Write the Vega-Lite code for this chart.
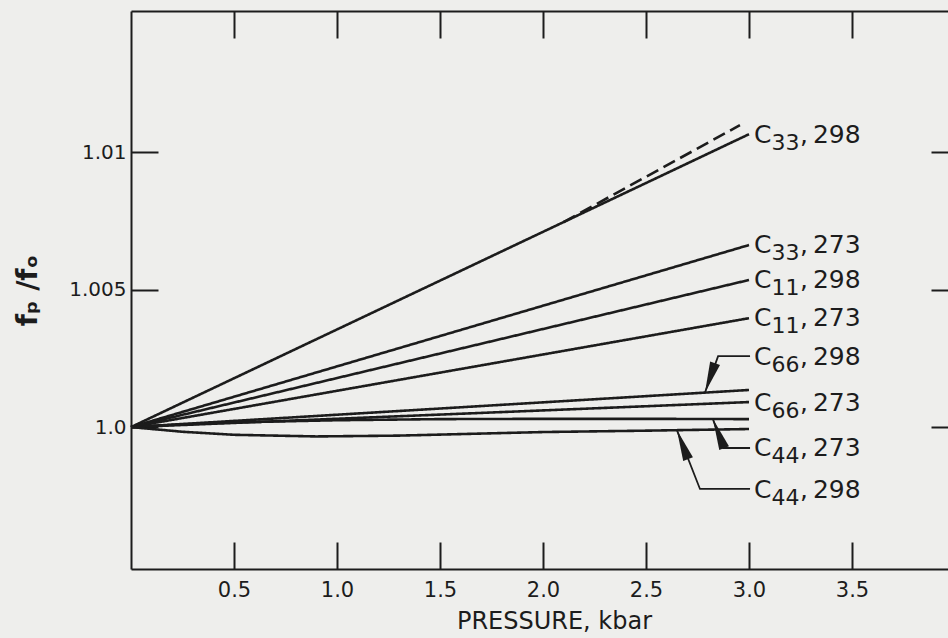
{
  "$schema": "https://vega.github.io/schema/vega-lite/v6.json",
  "width": 817,
  "height": 558,
  "autosize": {"type": "none"},
  "padding": {"left": 131, "top": 11, "right": 0, "bottom": 69},
  "background": "#eeeeec",
  "config": {
    "view": {"stroke": null},
    "font": "DejaVu Sans",
    "axis": {
      "grid": false,
      "domainColor": "#1c1c1c",
      "tickColor": "#1c1c1c",
      "labelColor": "#1c1c1c",
      "titleColor": "#1c1c1c",
      "domainWidth": 2,
      "tickWidth": 2,
      "labelFont": "DejaVu Sans",
      "titleFont": "DejaVu Sans"
    }
  },
  "datasets": {
    "curves": [
      {"series": "C33_298", "dash": "solid", "p": 0, "r": 1.0},
      {"series": "C33_298", "dash": "solid", "p": 1.5, "r": 1.005325},
      {"series": "C33_298", "dash": "solid", "p": 3.0, "r": 1.01065},
      {"series": "C33_298x", "dash": "dashed", "p": 2.1, "r": 1.007455},
      {"series": "C33_298x", "dash": "dashed", "p": 2.956, "r": 1.01098},
      {"series": "C33_273", "dash": "solid", "p": 0, "r": 1.0},
      {"series": "C33_273", "dash": "solid", "p": 3.0, "r": 1.00662},
      {"series": "C11_298", "dash": "solid", "p": 0, "r": 1.0},
      {"series": "C11_298", "dash": "solid", "p": 3.0, "r": 1.00535},
      {"series": "C11_273", "dash": "solid", "p": 0, "r": 1.0},
      {"series": "C11_273", "dash": "solid", "p": 3.0, "r": 1.00396},
      {"series": "C66_298", "dash": "solid", "p": 0, "r": 1.0},
      {"series": "C66_298", "dash": "solid", "p": 3.0, "r": 1.00135},
      {"series": "C66_273", "dash": "solid", "p": 0, "r": 1.0},
      {"series": "C66_273", "dash": "solid", "p": 3.0, "r": 1.00091},
      {"series": "C44_273", "dash": "solid", "p": 0, "r": 1.0},
      {"series": "C44_273", "dash": "solid", "p": 0.25, "r": 1.0001},
      {"series": "C44_273", "dash": "solid", "p": 0.5, "r": 1.00017},
      {"series": "C44_273", "dash": "solid", "p": 1.0, "r": 1.00025},
      {"series": "C44_273", "dash": "solid", "p": 1.5, "r": 1.00029},
      {"series": "C44_273", "dash": "solid", "p": 2.0, "r": 1.0003},
      {"series": "C44_273", "dash": "solid", "p": 2.5, "r": 1.0003},
      {"series": "C44_273", "dash": "solid", "p": 3.0, "r": 1.00029},
      {"series": "C44_298", "dash": "solid", "p": 0, "r": 1.0},
      {"series": "C44_298", "dash": "solid", "p": 0.25, "r": 0.99983},
      {"series": "C44_298", "dash": "solid", "p": 0.5, "r": 0.99972},
      {"series": "C44_298", "dash": "solid", "p": 0.9, "r": 0.99966},
      {"series": "C44_298", "dash": "solid", "p": 1.3, "r": 0.99969},
      {"series": "C44_298", "dash": "solid", "p": 2.0, "r": 0.99982},
      {"series": "C44_298", "dash": "solid", "p": 2.5, "r": 0.99987},
      {"series": "C44_298", "dash": "solid", "p": 3.0, "r": 0.99993}
    ],
    "leaders": [
      {"series": "L66_298", "k": 1, "p": 2.786, "r": 1.00125},
      {"series": "L66_298", "k": 2, "p": 2.85, "r": 1.00258},
      {"series": "L66_298", "k": 3, "p": 3.005, "r": 1.00258},
      {"series": "L44_273", "k": 1, "p": 2.825, "r": 1.00029},
      {"series": "L44_273", "k": 2, "p": 2.874, "r": 0.99924},
      {"series": "L44_273", "k": 3, "p": 3.005, "r": 0.99924},
      {"series": "L44_298", "k": 1, "p": 2.65, "r": 0.99989},
      {"series": "L44_298", "k": 2, "p": 2.762, "r": 0.99775},
      {"series": "L44_298", "k": 3, "p": 3.005, "r": 0.99775}
    ],
    "tips": [
      {"series": "L66_298", "dir": "down", "p": 2.786, "r": 1.00125},
      {"series": "L44_273", "dir": "up", "p": 2.825, "r": 1.00029},
      {"series": "L44_298", "dir": "up", "p": 2.65, "r": 0.99989}
    ],
    "labels": [
      {"c": "C", "sub": "33", "tail": ",\u2009298", "p": 3.0, "r": 1.01062},
      {"c": "C", "sub": "33", "tail": ",\u2009273", "p": 3.0, "r": 1.00662},
      {"c": "C", "sub": "11", "tail": ",\u2009298", "p": 3.0, "r": 1.00535},
      {"c": "C", "sub": "11", "tail": ",\u2009273", "p": 3.0, "r": 1.00396},
      {"c": "C", "sub": "66", "tail": ",\u2009298", "p": 3.0, "r": 1.00255},
      {"c": "C", "sub": "66", "tail": ",\u2009273", "p": 3.0, "r": 1.00087},
      {"c": "C", "sub": "44", "tail": ",\u2009273", "p": 3.0, "r": 0.99924},
      {"c": "C", "sub": "44", "tail": ",\u2009298", "p": 3.0, "r": 0.99771}
    ]
  },
  "resolve": {"axis": {"x": "independent", "y": "independent"}},
  "layer": [
    {
      "data": {"name": "curves"},
      "mark": {"type": "line", "color": "#1c1c1c", "strokeWidth": 2.6},
      "encoding": {
        "x": {
          "field": "p", "type": "quantitative",
          "scale": {"domain": [0, 3.966], "nice": false, "zero": false},
          "axis": {
            "orient": "bottom",
            "values": [0.5, 1.0, 1.5, 2.0, 2.5, 3.0, 3.5],
            "format": ".1f",
            "tickSize": -27,
            "labelPadding": 37,
            "labelFontSize": 21,
            "labelFlush": false,
            "title": "PRESSURE, kbar",
            "titleFontSize": 24,
            "titleFontWeight": "normal",
            "titleX": 423,
            "titleY": 59,
            "titleBaseline": "alphabetic"
          }
        },
        "y": {
          "field": "r", "type": "quantitative",
          "scale": {"domain": [0.99484, 1.01513], "nice": false, "zero": false},
          "axis": {
            "orient": "left",
            "values": [1.0, 1.005, 1.01],
            "labelExpr": "datum.value == 1 ? '1.0' : format(datum.value, '.3~f')",
            "tickSize": -27,
            "labelPadding": 32,
            "labelFontSize": 20,
            "labelFlush": false,
            "title": "fₚ /fₒ",
            "titleFontSize": 28,
            "titleFontWeight": "bold",
            "titleAngle": 270,
            "titleX": -95,
            "titleY": 279,
            "titleAlign": "center",
            "titleBaseline": "alphabetic"
          }
        },
        "detail": {"field": "series"},
        "strokeDash": {
          "field": "dash", "type": "nominal",
          "scale": {"domain": ["solid", "dashed"], "range": [[1, 0], [13, 6]]},
          "legend": null
        }
      }
    },
    {
      "data": {"name": "leaders"},
      "mark": {"type": "line", "color": "#1c1c1c", "strokeWidth": 1.8},
      "encoding": {
        "x": {
          "field": "p", "type": "quantitative",
          "axis": {
            "orient": "top",
            "values": [0.5, 1.0, 1.5, 2.0, 2.5, 3.0, 3.5],
            "tickSize": -27,
            "labels": false,
            "title": null
          }
        },
        "y": {
          "field": "r", "type": "quantitative",
          "axis": {
            "orient": "right",
            "values": [1.0, 1.005, 1.01],
            "tickSize": -17,
            "labels": false,
            "domain": false,
            "title": null
          }
        },
        "detail": {"field": "series"},
        "order": {"field": "k"}
      }
    },
    {
      "data": {"name": "tips"},
      "transform": [{"filter": "datum.dir == 'down'"}],
      "mark": {"type": "point", "shape": "M0,0L-0.3,1.8L0.3,1.8Z", "filled": true, "color": "#1c1c1c", "opacity": 1, "size": 1200, "angle": 199},
      "encoding": {
        "x": {"field": "p", "type": "quantitative", "axis": null},
        "y": {"field": "r", "type": "quantitative", "axis": null}
      }
    },
    {
      "data": {"name": "tips"},
      "transform": [{"filter": "datum.dir == 'up'"}],
      "mark": {"type": "point", "shape": "M0,0L-0.3,1.8L0.3,1.8Z", "filled": true, "color": "#1c1c1c", "opacity": 1, "size": 1200, "angle": 339},
      "encoding": {
        "x": {"field": "p", "type": "quantitative", "axis": null},
        "y": {"field": "r", "type": "quantitative", "axis": null}
      }
    },
    {
      "data": {"name": "labels"},
      "mark": {"type": "text", "align": "left", "baseline": "middle", "dx": 5, "fontSize": 25, "color": "#1c1c1c"},
      "encoding": {
        "x": {"field": "p", "type": "quantitative", "axis": null},
        "y": {"field": "r", "type": "quantitative", "axis": null},
        "text": {"field": "c"}
      }
    },
    {
      "data": {"name": "labels"},
      "mark": {"type": "text", "align": "left", "baseline": "middle", "dx": 22.5, "dy": 8, "fontSize": 22, "color": "#1c1c1c"},
      "encoding": {
        "x": {"field": "p", "type": "quantitative", "axis": null},
        "y": {"field": "r", "type": "quantitative", "axis": null},
        "text": {"field": "sub"}
      }
    },
    {
      "data": {"name": "labels"},
      "mark": {"type": "text", "align": "left", "baseline": "middle", "dx": 51, "fontSize": 25, "color": "#1c1c1c"},
      "encoding": {
        "x": {"field": "p", "type": "quantitative", "axis": null},
        "y": {"field": "r", "type": "quantitative", "axis": null},
        "text": {"field": "tail"}
      }
    }
  ]
}
